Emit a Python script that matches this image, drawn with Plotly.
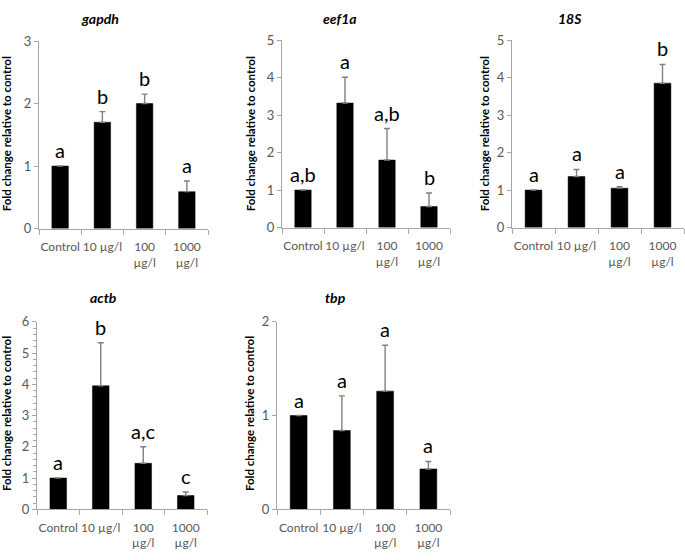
import plotly.graph_objects as go

categories = ["Control", "10 µg/l", "100<br>µg/l", "1000<br>µg/l"]

genes = ["gapdh", "eef1a", "18S", "actb", "tbp"]

gapdh_mean = [1.0, 1.70, 2.00, 0.59]
gapdh_err = [None, 0.17, 0.15, 0.17]
gapdh_letters = ["a", "b", "b", "a"]

eef1a_mean = [1.0, 3.32, 1.80, 0.56]
eef1a_err = [None, 0.69, 0.84, 0.36]
eef1a_letters = ["a,b", "a", "a,b", "b"]

s18_mean = [1.0, 1.36, 1.05, 3.85]
s18_err = [None, 0.19, 0.04, 0.50]
s18_letters = ["a", "a", "a", "b"]

actb_mean = [1.0, 3.95, 1.47, 0.44]
actb_err = [None, 1.38, 0.53, 0.11]
actb_letters = ["a", "b", "a,c", "c"]

tbp_mean = [1.0, 0.84, 1.26, 0.43]
tbp_err = [None, 0.37, 0.49, 0.08]
tbp_letters = ["a", "a", "a", "a"]

y_max = [3, 5, 5, 6, 2]
y_minor = [None, None, None, 0.2, None]

means = [gapdh_mean, eef1a_mean, s18_mean, actb_mean, tbp_mean]
errs = [gapdh_err, eef1a_err, s18_err, actb_err, tbp_err]
letters = [gapdh_letters, eef1a_letters, s18_letters, actb_letters, tbp_letters]

W, H = 685, 560
# plot-area boxes in pixels: (left, right, top, bottom)
boxes = [
    (39, 208, 34, 227),
    (282, 450, 33, 226),
    (512, 684, 33, 226),
    (37, 207, 323, 516),
    (277, 450, 323, 516),
]
title_pos = [(100, 11), (340, 11), (570, 11), (103, 298), (335, 298)]
ytitle_pos = [(6, 130), (250, 130), (484, 130), (6, 418), (249, 418)]

FONT = "Lato"
AXIS_COL = "#a6a6a6"
TICK_COL = "#595959"

fig = go.Figure()
annotations = []
layout = {}

for i in range(5):
    n = "" if i == 0 else str(i + 1)
    xa, ya = "x" + n, "y" + n
    l, r, t, b = boxes[i]
    fig.add_trace(go.Bar(
        x=categories, y=means[i], xaxis=xa, yaxis=ya,
        marker=dict(color="black", line=dict(color="black", width=0.5)),
        error_y=dict(type="data", symmetric=False, array=errs[i],
                     arrayminus=[0, 0, 0, 0], color="#808080",
                     thickness=1.4, width=3),
        showlegend=False, hoverinfo="x+y",
    ))
    layout["xaxis" + n] = dict(
        domain=[l / W, r / W], anchor=ya, type="category",
        showline=True, linecolor=AXIS_COL, linewidth=1,
        ticks="outside", tickson="boundaries", ticklen=5, tickcolor=AXIS_COL,
        tickfont=dict(family=FONT, size=12, color=TICK_COL),
        ticklabelstandoff=7, showgrid=False, zeroline=False, fixedrange=True,
        tickangle=0,
    )
    yd = dict(
        domain=[1 - b / H, 1 - t / H], anchor=xa, range=[0, y_max[i]],
        dtick=1, showline=True, linecolor=AXIS_COL, linewidth=1,
        ticks="outside", ticklen=4, tickcolor=AXIS_COL,
        tickfont=dict(family=FONT, size=13, color=TICK_COL),
        showgrid=False, zeroline=False, fixedrange=True,
    )
    if y_minor[i]:
        yd["minor"] = dict(dtick=y_minor[i], ticks="outside", ticklen=3,
                           tickcolor=AXIS_COL, showgrid=False)
    layout["yaxis" + n] = yd

    # significance letters
    for c, m, e, lt in zip(categories, means[i], errs[i], letters[i]):
        annotations.append(dict(
            x=c, y=m + (e or 0), xref=xa, yref=ya, text=lt,
            showarrow=False, yanchor="bottom", yshift=2,
            font=dict(family=FONT, size=20, color="black"),
        ))
    # panel title
    tx, ty = title_pos[i]
    annotations.append(dict(
        x=tx / W, y=1 - ty / H, xref="paper", yref="paper",
        text="<b><i>" + genes[i] + "</i></b>", showarrow=False,
        xanchor="center", yanchor="middle",
        font=dict(family=FONT, size=14, color="black"),
    ))
    # y axis title
    yx, yy = ytitle_pos[i]
    annotations.append(dict(
        x=yx / W, y=1 - yy / H, xref="paper", yref="paper",
        text="<b>Fold change relative to control</b>", showarrow=False,
        textangle=-90, xanchor="center", yanchor="middle",
        font=dict(family=FONT, size=11.5, color="black"),
    ))

fig.update_layout(
    width=W, height=H, margin=dict(l=0, r=0, t=0, b=0),
    paper_bgcolor="white", plot_bgcolor="white",
    bargap=0.61, annotations=annotations, **layout,
)

fig.write_html(
    "out.html",
    config={"displayModeBar": False},
    post_script="document.body.style.margin='0';document.body.style.overflow='hidden';",
)
